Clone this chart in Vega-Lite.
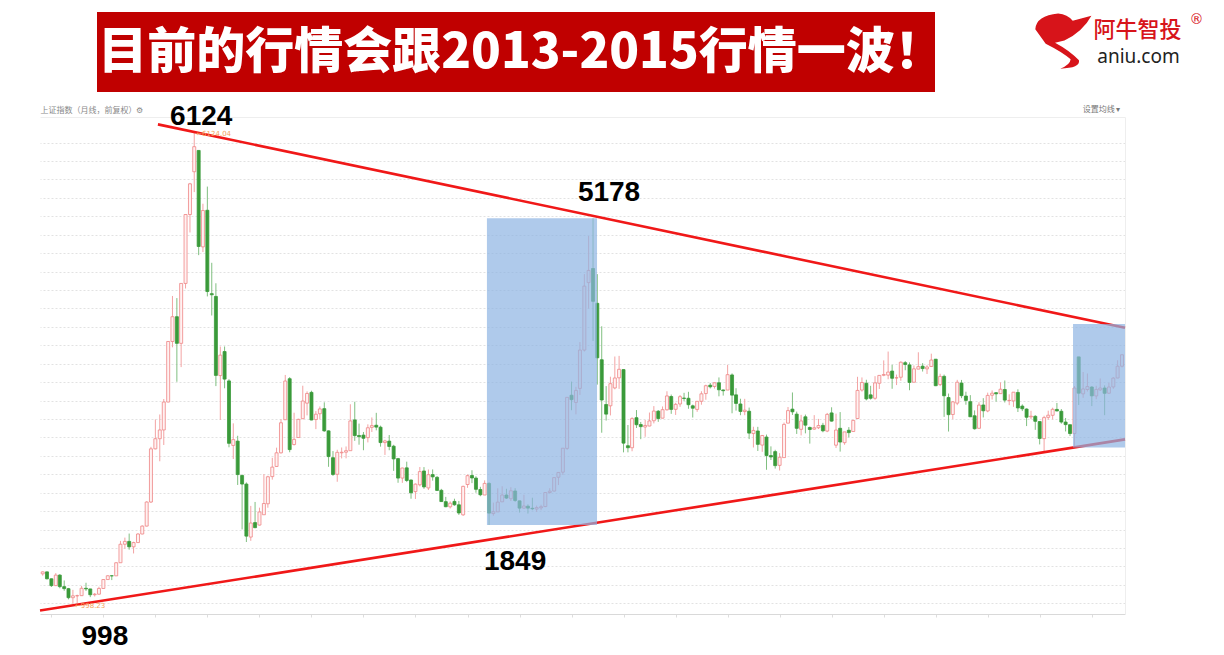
{
  "$schema": "https://vega.github.io/schema/vega-lite/v6.json",
  "background": "white",
  "padding": {"left": 34, "top": 12, "right": 0, "bottom": 0},
  "config": {"view": {"stroke": null}, "font": "Noto Sans CJK SC"},
  "spacing": 11,
  "vconcat": [
    {
      "spacing": 10,
      "hconcat": [
        {
          "width": 47, "height": 80,
          "data": {"values": [{"t": ""}]},
          "mark": {"type": "text"},
          "encoding": {"text": {"field": "t"}}
        },
        {
          "width": 838, "height": 80,
          "view": {"fill": "#c00000", "stroke": null},
          "data": {"values": [{"t": "目前的行情会跟2013-2015行情一波！"}]},
          "mark": {"type": "text", "color": "white", "fontSize": 49, "fontWeight": 900, "font": "Noto Sans CJK SC", "align": "center", "baseline": "middle", "dx": 5, "dy": 1},
          "encoding": {"text": {"field": "t"}}
        },
        {
          "width": 279, "height": 80,
          "layer": [
            {
              "data": {"values": [{"k": "logo"}]},
              "mark": {"type": "point", "filled": true, "color": "#d7141a", "opacity": 1, "size": 2700,
                "shape": "M-2.24,-0.88 Q-2.2,-1.4 -1.36,-1.48 Q-1.0,-1.45 -0.8,-1.2 L-0.08,-1.4 Q-0.4,-0.8 -1.12,-0.44 L-1.48,-0.36 Q-0.9,-0.05 -0.56,0.32 Q-0.5,0.62 -1.28,0.64 Q-0.9,0.5 -0.88,0.28 Q-1.2,0.0 -1.84,-0.32 Z"},
              "encoding": {}
            },
            {
              "data": {"values": [{"t": "阿牛智投"}]},
              "mark": {"type": "text", "color": "#d7141a", "fontSize": 22, "fontWeight": 500, "font": "Noto Sans CJK SC", "align": "center", "baseline": "middle", "dx": 44, "dy": -22},
              "encoding": {"text": {"field": "t"}}
            },
            {
              "data": {"values": [{"t": "®"}]},
              "mark": {"type": "text", "color": "#d7141a", "fontSize": 14, "font": "DejaVu Sans", "align": "center", "baseline": "middle", "dx": 103, "dy": -32},
              "encoding": {"text": {"field": "t"}}
            },
            {
              "data": {"values": [{"t": "aniu.com"}]},
              "mark": {"type": "text", "color": "#222222", "fontSize": 19, "font": "Noto Sans", "align": "center", "baseline": "middle", "dx": 45, "dy": 5},
              "encoding": {"text": {"field": "t"}}
            }
          ]
        }
      ]
    },
    {
      "width": 1085,
      "height": 497,
      "data": {"name": "candles", "values": [
        {"m":"2004-11","o":1320,"h":1345,"l":1300,"c":1341},
        {"m":"2004-12","o":1341,"h":1345,"l":1259,"c":1266},
        {"m":"2005-01","o":1266,"h":1270,"l":1177,"c":1192},
        {"m":"2005-02","o":1192,"h":1328,"l":1187,"c":1306},
        {"m":"2005-03","o":1306,"h":1316,"l":1163,"c":1181},
        {"m":"2005-04","o":1181,"h":1248,"l":1136,"c":1159},
        {"m":"2005-05","o":1159,"h":1167,"l":1043,"c":1061},
        {"m":"2005-06","o":1061,"h":1146,"l":998.23,"c":1081},
        {"m":"2005-07","o":1081,"h":1094,"l":1004,"c":1083},
        {"m":"2005-08","o":1083,"h":1188,"l":1081,"c":1163},
        {"m":"2005-09","o":1163,"h":1223,"l":1134,"c":1156},
        {"m":"2005-10","o":1156,"h":1157,"l":1067,"c":1093},
        {"m":"2005-11","o":1093,"h":1112,"l":1074,"c":1099},
        {"m":"2005-12","o":1099,"h":1180,"l":1094,"c":1161},
        {"m":"2006-01","o":1161,"h":1262,"l":1161,"c":1258},
        {"m":"2006-02","o":1258,"h":1304,"l":1257,"c":1299},
        {"m":"2006-03","o":1299,"h":1302,"l":1252,"c":1298},
        {"m":"2006-04","o":1298,"h":1445,"l":1298,"c":1440},
        {"m":"2006-05","o":1440,"h":1677,"l":1440,"c":1641},
        {"m":"2006-06","o":1641,"h":1713,"l":1593,"c":1672},
        {"m":"2006-07","o":1672,"h":1757,"l":1582,"c":1613},
        {"m":"2006-08","o":1613,"h":1668,"l":1541,"c":1659},
        {"m":"2006-09","o":1659,"h":1761,"l":1657,"c":1752},
        {"m":"2006-10","o":1752,"h":1846,"l":1749,"c":1838},
        {"m":"2006-11","o":1838,"h":2107,"l":1834,"c":2099},
        {"m":"2006-12","o":2099,"h":2698,"l":2089,"c":2676},
        {"m":"2007-01","o":2676,"h":2995,"l":2670,"c":2786},
        {"m":"2007-02","o":2786,"h":3049,"l":2541,"c":2881},
        {"m":"2007-03","o":2881,"h":3217,"l":2718,"c":3184},
        {"m":"2007-04","o":3184,"h":3845,"l":3181,"c":3841},
        {"m":"2007-05","o":3841,"h":4335,"l":3778,"c":4110},
        {"m":"2007-06","o":4110,"h":4312,"l":3404,"c":3821},
        {"m":"2007-07","o":3821,"h":4471,"l":3563,"c":4471},
        {"m":"2007-08","o":4471,"h":5219,"l":4416,"c":5219},
        {"m":"2007-09","o":5219,"h":5562,"l":5024,"c":5552},
        {"m":"2007-10","o":5683,"h":6124.04,"l":5462,"c":5955},
        {"m":"2007-11","o":5914,"h":5915,"l":4778,"c":4872},
        {"m":"2007-12","o":4868,"h":5336,"l":4812,"c":5262},
        {"m":"2008-01","o":5265,"h":5522,"l":4330,"c":4383},
        {"m":"2008-02","o":4360,"h":4695,"l":4123,"c":4348},
        {"m":"2008-03","o":4330,"h":4473,"l":3357,"c":3473},
        {"m":"2008-04","o":3471,"h":3786,"l":2990,"c":3693},
        {"m":"2008-05","o":3732,"h":3787,"l":3333,"c":3433},
        {"m":"2008-06","o":3413,"h":3432,"l":2693,"c":2736},
        {"m":"2008-07","o":2713,"h":2953,"l":2566,"c":2776},
        {"m":"2008-08","o":2760,"h":2818,"l":2284,"c":2397},
        {"m":"2008-09","o":2387,"h":2398,"l":1802,"c":2294},
        {"m":"2008-10","o":2294,"h":2312,"l":1665,"c":1729},
        {"m":"2008-11","o":1719,"h":2057,"l":1678,"c":1871},
        {"m":"2008-12","o":1876,"h":2100,"l":1815,"c":1821},
        {"m":"2009-01","o":1849,"h":2038,"l":1844,"c":1991},
        {"m":"2009-02","o":1961,"h":2402,"l":1962,"c":2083},
        {"m":"2009-03","o":2080,"h":2384,"l":2037,"c":2373},
        {"m":"2009-04","o":2375,"h":2579,"l":2342,"c":2478},
        {"m":"2009-05","o":2485,"h":2689,"l":2479,"c":2633},
        {"m":"2009-06","o":2633,"h":2998,"l":2625,"c":2959},
        {"m":"2009-07","o":2992,"h":3478,"l":2990,"c":3412},
        {"m":"2009-08","o":3437,"h":3454,"l":2639,"c":2668},
        {"m":"2009-09","o":2723,"h":3068,"l":2712,"c":2779},
        {"m":"2009-10","o":2799,"h":3003,"l":2799,"c":2996},
        {"m":"2009-11","o":3003,"h":3361,"l":3003,"c":3195},
        {"m":"2009-12","o":3172,"h":3300,"l":3039,"c":3277},
        {"m":"2010-01","o":3289,"h":3307,"l":2986,"c":2989},
        {"m":"2010-02","o":2994,"h":3086,"l":2890,"c":3052},
        {"m":"2010-03","o":3057,"h":3136,"l":2997,"c":3109},
        {"m":"2010-04","o":3112,"h":3181,"l":2861,"c":2871},
        {"m":"2010-05","o":2871,"h":2877,"l":2481,"c":2592},
        {"m":"2010-06","o":2580,"h":2652,"l":2382,"c":2398},
        {"m":"2010-07","o":2400,"h":2666,"l":2319,"c":2638},
        {"m":"2010-08","o":2633,"h":2691,"l":2572,"c":2639},
        {"m":"2010-09","o":2640,"h":2702,"l":2573,"c":2656},
        {"m":"2010-10","o":2656,"h":3160,"l":2660,"c":2979},
        {"m":"2010-11","o":2990,"h":3187,"l":2763,"c":2820},
        {"m":"2010-12","o":2821,"h":2950,"l":2721,"c":2808},
        {"m":"2011-01","o":2825,"h":2859,"l":2661,"c":2791},
        {"m":"2011-02","o":2798,"h":2942,"l":2746,"c":2905},
        {"m":"2011-03","o":2909,"h":3017,"l":2859,"c":2928},
        {"m":"2011-04","o":2932,"h":3067,"l":2877,"c":2912},
        {"m":"2011-05","o":2911,"h":2928,"l":2700,"c":2744},
        {"m":"2011-06","o":2744,"h":2775,"l":2610,"c":2762},
        {"m":"2011-07","o":2760,"h":2826,"l":2661,"c":2702},
        {"m":"2011-08","o":2705,"h":2720,"l":2437,"c":2567},
        {"m":"2011-09","o":2570,"h":2578,"l":2308,"c":2359},
        {"m":"2011-10","o":2359,"h":2472,"l":2307,"c":2468},
        {"m":"2011-11","o":2470,"h":2537,"l":2315,"c":2333},
        {"m":"2011-12","o":2338,"h":2343,"l":2135,"c":2199},
        {"m":"2012-01","o":2212,"h":2301,"l":2132,"c":2293},
        {"m":"2012-02","o":2286,"h":2479,"l":2269,"c":2429},
        {"m":"2012-03","o":2436,"h":2478,"l":2242,"c":2263},
        {"m":"2012-04","o":2252,"h":2452,"l":2229,"c":2396},
        {"m":"2012-05","o":2397,"h":2453,"l":2331,"c":2372},
        {"m":"2012-06","o":2367,"h":2381,"l":2218,"c":2225},
        {"m":"2012-07","o":2226,"h":2242,"l":2100,"c":2104},
        {"m":"2012-08","o":2103,"h":2155,"l":2043,"c":2048},
        {"m":"2012-09","o":2047,"h":2106,"l":2029,"c":2086},
        {"m":"2012-10","o":2106,"h":2135,"l":2058,"c":2069},
        {"m":"2012-11","o":2069,"h":2111,"l":1959,"c":1980},
        {"m":"2012-12","o":1960,"h":2276,"l":1949,"c":2269},
        {"m":"2013-01","o":2289,"h":2398,"l":2253,"c":2385},
        {"m":"2013-02","o":2387,"h":2444,"l":2304,"c":2360},
        {"m":"2013-03","o":2359,"h":2379,"l":2200,"c":2237},
        {"m":"2013-04","o":2235,"h":2264,"l":2162,"c":2178},
        {"m":"2013-05","o":2175,"h":2334,"l":2175,"c":2301},
        {"m":"2013-06","o":2301,"h":2314,"l":1849.65,"c":1979},
        {"m":"2013-07","o":1974,"h":2093,"l":1950,"c":1994},
        {"m":"2013-08","o":1992,"h":2248,"l":1991,"c":2098},
        {"m":"2013-09","o":2101,"h":2270,"l":2101,"c":2175},
        {"m":"2013-10","o":2175,"h":2243,"l":2132,"c":2142},
        {"m":"2013-11","o":2135,"h":2260,"l":2110,"c":2221},
        {"m":"2013-12","o":2219,"h":2249,"l":2100,"c":2116},
        {"m":"2014-01","o":2112,"h":2113,"l":1985,"c":2033},
        {"m":"2014-02","o":2033,"h":2178,"l":2025,"c":2056},
        {"m":"2014-03","o":2054,"h":2074,"l":1974,"c":2033},
        {"m":"2014-04","o":2031,"h":2146,"l":2010,"c":2026},
        {"m":"2014-05","o":2023,"h":2061,"l":1991,"c":2039},
        {"m":"2014-06","o":2036,"h":2070,"l":2010,"c":2048},
        {"m":"2014-07","o":2050,"h":2203,"l":2043,"c":2202},
        {"m":"2014-08","o":2202,"h":2249,"l":2190,"c":2217},
        {"m":"2014-09","o":2218,"h":2366,"l":2212,"c":2364},
        {"m":"2014-10","o":2368,"h":2421,"l":2283,"c":2420},
        {"m":"2014-11","o":2423,"h":2683,"l":2393,"c":2683},
        {"m":"2014-12","o":2681,"h":3239,"l":2665,"c":3235},
        {"m":"2015-01","o":3258,"h":3406,"l":3095,"c":3210},
        {"m":"2015-02","o":3180,"h":3349,"l":3050,"c":3310},
        {"m":"2015-03","o":3332,"h":3835,"l":3261,"c":3748},
        {"m":"2015-04","o":3748,"h":4572,"l":3732,"c":4442},
        {"m":"2015-05","o":4480,"h":4986,"l":4198,"c":4612},
        {"m":"2015-06","o":4633,"h":5178.19,"l":3847,"c":4277},
        {"m":"2015-07","o":4255,"h":4572,"l":3373,"c":3664},
        {"m":"2015-08","o":3643,"h":4006,"l":2851,"c":3206},
        {"m":"2015-09","o":3157,"h":3357,"l":2983,"c":3053},
        {"m":"2015-10","o":3143,"h":3459,"l":3039,"c":3383},
        {"m":"2015-11","o":3337,"h":3678,"l":3322,"c":3445},
        {"m":"2015-12","o":3447,"h":3685,"l":3327,"c":3539},
        {"m":"2016-01","o":3536,"h":3539,"l":2638,"c":2738},
        {"m":"2016-02","o":2710,"h":2935,"l":2638,"c":2688},
        {"m":"2016-03","o":2688,"h":3019,"l":2650,"c":3004},
        {"m":"2016-04","o":3014,"h":3097,"l":2902,"c":2938},
        {"m":"2016-05","o":2940,"h":2968,"l":2781,"c":2917},
        {"m":"2016-06","o":2913,"h":2990,"l":2807,"c":2930},
        {"m":"2016-07","o":2924,"h":3070,"l":2921,"c":2979},
        {"m":"2016-08","o":2981,"h":3140,"l":2952,"c":3086},
        {"m":"2016-09","o":3085,"h":3097,"l":2969,"c":3005},
        {"m":"2016-10","o":3009,"h":3136,"l":3008,"c":3101},
        {"m":"2016-11","o":3100,"h":3301,"l":3091,"c":3250},
        {"m":"2016-12","o":3244,"h":3265,"l":3056,"c":3104},
        {"m":"2017-01","o":3105,"h":3175,"l":3044,"c":3159},
        {"m":"2017-02","o":3163,"h":3260,"l":3132,"c":3242},
        {"m":"2017-03","o":3227,"h":3284,"l":3196,"c":3223},
        {"m":"2017-04","o":3225,"h":3295,"l":3111,"c":3155},
        {"m":"2017-05","o":3143,"h":3156,"l":3016,"c":3117},
        {"m":"2017-06","o":3104,"h":3193,"l":3078,"c":3192},
        {"m":"2017-07","o":3192,"h":3301,"l":3155,"c":3273},
        {"m":"2017-08","o":3276,"h":3372,"l":3209,"c":3361},
        {"m":"2017-09","o":3367,"h":3391,"l":3331,"c":3349},
        {"m":"2017-10","o":3353,"h":3397,"l":3330,"c":3393},
        {"m":"2017-11","o":3393,"h":3451,"l":3246,"c":3317},
        {"m":"2017-12","o":3315,"h":3319,"l":3254,"c":3307},
        {"m":"2018-01","o":3314,"h":3587,"l":3314,"c":3481},
        {"m":"2018-02","o":3478,"h":3495,"l":3062,"c":3259},
        {"m":"2018-03","o":3262,"h":3334,"l":3091,"c":3169},
        {"m":"2018-04","o":3163,"h":3220,"l":3041,"c":3082},
        {"m":"2018-05","o":3081,"h":3219,"l":3041,"c":3096},
        {"m":"2018-06","o":3084,"h":3124,"l":2782,"c":2847},
        {"m":"2018-07","o":2842,"h":2916,"l":2691,"c":2876},
        {"m":"2018-08","o":2870,"h":2915,"l":2653,"c":2725},
        {"m":"2018-09","o":2717,"h":2827,"l":2644,"c":2821},
        {"m":"2018-10","o":2804,"h":2831,"l":2449,"c":2603},
        {"m":"2018-11","o":2603,"h":2703,"l":2555,"c":2588},
        {"m":"2018-12","o":2646,"h":2666,"l":2462,"c":2494},
        {"m":"2019-01","o":2497,"h":2630,"l":2441,"c":2585},
        {"m":"2019-02","o":2581,"h":2961,"l":2581,"c":2941},
        {"m":"2019-03","o":2955,"h":3130,"l":2954,"c":3091},
        {"m":"2019-04","o":3107,"h":3288,"l":3044,"c":3078},
        {"m":"2019-05","o":3053,"h":3080,"l":2838,"c":2899},
        {"m":"2019-06","o":2888,"h":3045,"l":2822,"c":2979},
        {"m":"2019-07","o":3024,"h":3048,"l":2844,"c":2933},
        {"m":"2019-08","o":2908,"h":2918,"l":2733,"c":2886},
        {"m":"2019-09","o":2890,"h":3042,"l":2883,"c":2905},
        {"m":"2019-10","o":2905,"h":3001,"l":2891,"c":2929},
        {"m":"2019-11","o":2931,"h":2958,"l":2856,"c":2872},
        {"m":"2019-12","o":2869,"h":3066,"l":2857,"c":3050},
        {"m":"2020-01","o":3066,"h":3127,"l":2971,"c":2977},
        {"m":"2020-02","o":2716,"h":3058,"l":2685,"c":2880},
        {"m":"2020-03","o":2899,"h":3075,"l":2646,"c":2750},
        {"m":"2020-04","o":2743,"h":2860,"l":2720,"c":2860},
        {"m":"2020-05","o":2878,"h":2912,"l":2801,"c":2852},
        {"m":"2020-06","o":2864,"h":2992,"l":2864,"c":2985},
        {"m":"2020-07","o":3005,"h":3458,"l":3001,"c":3310},
        {"m":"2020-08","o":3314,"h":3451,"l":3297,"c":3396},
        {"m":"2020-09","o":3388,"h":3426,"l":3202,"c":3218},
        {"m":"2020-10","o":3262,"h":3360,"l":3210,"c":3225},
        {"m":"2020-11","o":3225,"h":3465,"l":3209,"c":3392},
        {"m":"2020-12","o":3388,"h":3475,"l":3326,"c":3473},
        {"m":"2021-01","o":3474,"h":3636,"l":3464,"c":3483},
        {"m":"2021-02","o":3476,"h":3732,"l":3431,"c":3509},
        {"m":"2021-03","o":3520,"h":3588,"l":3328,"c":3442},
        {"m":"2021-04","o":3446,"h":3482,"l":3368,"c":3447},
        {"m":"2021-05","o":3453,"h":3625,"l":3415,"c":3616},
        {"m":"2021-06","o":3611,"h":3629,"l":3529,"c":3591},
        {"m":"2021-07","o":3587,"h":3614,"l":3312,"c":3397},
        {"m":"2021-08","o":3399,"h":3581,"l":3398,"c":3544},
        {"m":"2021-09","o":3541,"h":3724,"l":3541,"c":3568},
        {"m":"2021-10","o":3573,"h":3606,"l":3515,"c":3547},
        {"m":"2021-11","o":3544,"h":3584,"l":3488,"c":3564},
        {"m":"2021-12","o":3570,"h":3709,"l":3564,"c":3640},
        {"m":"2022-01","o":3649,"h":3651,"l":3357,"c":3361},
        {"m":"2022-02","o":3373,"h":3491,"l":3357,"c":3462},
        {"m":"2022-03","o":3463,"h":3482,"l":3023,"c":3252},
        {"m":"2022-04","o":3233,"h":3276,"l":2864,"c":3047},
        {"m":"2022-05","o":3049,"h":3195,"l":2997,"c":3186},
        {"m":"2022-06","o":3172,"h":3425,"l":3150,"c":3399},
        {"m":"2022-07","o":3390,"h":3424,"l":3226,"c":3253},
        {"m":"2022-08","o":3249,"h":3296,"l":3155,"c":3202},
        {"m":"2022-09","o":3188,"h":3259,"l":3021,"c":3024},
        {"m":"2022-10","o":3035,"h":3093,"l":2885,"c":2894},
        {"m":"2022-11","o":2899,"h":3182,"l":2897,"c":3151},
        {"m":"2022-12","o":3152,"h":3226,"l":3017,"c":3089},
        {"m":"2023-01","o":3087,"h":3286,"l":3073,"c":3256},
        {"m":"2023-02","o":3258,"h":3310,"l":3211,"c":3280},
        {"m":"2023-03","o":3285,"h":3292,"l":3188,"c":3273},
        {"m":"2023-04","o":3275,"h":3397,"l":3272,"c":3323},
        {"m":"2023-05","o":3320,"h":3418,"l":3179,"c":3205},
        {"m":"2023-06","o":3200,"h":3268,"l":3150,"c":3202},
        {"m":"2023-07","o":3196,"h":3292,"l":3132,"c":3291},
        {"m":"2023-08","o":3288,"h":3322,"l":3076,"c":3120},
        {"m":"2023-09","o":3140,"h":3159,"l":3086,"c":3111},
        {"m":"2023-10","o":3108,"h":3115,"l":2923,"c":3019},
        {"m":"2023-11","o":3023,"h":3089,"l":2998,"c":3030},
        {"m":"2023-12","o":3029,"h":3042,"l":2882,"c":2975},
        {"m":"2024-01","o":2972,"h":2976,"l":2724,"c":2789},
        {"m":"2024-02","o":2787,"h":3035,"l":2635,"c":3015},
        {"m":"2024-03","o":3018,"h":3090,"l":2993,"c":3041},
        {"m":"2024-04","o":3040,"h":3123,"l":2995,"c":3105},
        {"m":"2024-05","o":3104,"h":3174,"l":3084,"c":3087},
        {"m":"2024-06","o":3084,"h":3108,"l":2949,"c":2967},
        {"m":"2024-07","o":2967,"h":3011,"l":2865,"c":2939},
        {"m":"2024-08","o":2938,"h":2939,"l":2815,"c":2842},
        {"m":"2024-09","o":2842,"h":3358,"l":2690,"c":3336},
        {"m":"2024-10","o":3674,"h":3674,"l":3152,"c":3280},
        {"m":"2024-11","o":3273,"h":3510,"l":3230,"c":3326},
        {"m":"2024-12","o":3320,"h":3494,"l":3298,"c":3352},
        {"m":"2025-01","o":3347,"h":3356,"l":3140,"c":3251},
        {"m":"2025-02","o":3250,"h":3361,"l":3214,"c":3321},
        {"m":"2025-03","o":3316,"h":3440,"l":3304,"c":3336},
        {"m":"2025-04","o":3336,"h":3365,"l":3041,"c":3279},
        {"m":"2025-05","o":3280,"h":3392,"l":3272,"c":3347},
        {"m":"2025-06","o":3348,"h":3454,"l":3328,"c":3444},
        {"m":"2025-07","o":3445,"h":3637,"l":3442,"c":3573},
        {"m":"2025-08","o":3573,"h":3700,"l":3559,"c":3697}
      ]},
      "resolve": {"axis": {"x": "independent", "y": "independent"}},
      "layer": [
        {
          "mark": {"type": "rule", "strokeWidth": 1},
          "encoding": {
            "x": {"field": "m", "type": "temporal",
              "scale": {"domain": [{"year": 2004, "month": 10, "date": 13, "utc": true}, {"year": 2025, "month": 8, "date": 22, "utc": true}], "nice": false, "padding": 0},
              "axis": {"orient": "bottom", "labels": false, "ticks": true, "tickSize": 3, "tickColor": "#dddddd", "domainColor": "#d9d9d9", "grid": false, "title": null, "tickCount": {"interval": "year", "step": 1}}},
            "y": {"field": "l", "type": "quantitative",
              "scale": {"domain": [884, 6277], "nice": false, "zero": false, "padding": 0},
              "axis": {"orient": "right", "values": [1000,1200,1400,1600,1800,2000,2200,2400,2600,2800,3000,3200,3400,3600,3800,4000,4200,4400,4600,4800,5000,5200,5400,5600,5800,6000],
                "labels": false, "ticks": false, "domain": true, "domainColor": "#eeeeee", "grid": true, "gridColor": "#e2e2e2", "gridDash": [2, 2],
                "title": "设置均线 ▾", "titleAngle": 0, "titleX": -5, "titleY": -4, "titleAlign": "right", "titleBaseline": "bottom", "titleFontSize": 8, "titleFontWeight": "normal", "titleColor": "#777777", "titleFont": "Noto Sans CJK SC"}},
            "y2": {"field": "h"},
            "color": {"condition": {"test": "datum.c >= datum.o", "value": "#f3a3a3"}, "value": "#80bf80"}
          }
        },
        {
          "mark": {"type": "bar", "width": 3, "strokeWidth": 0.8},
          "encoding": {
            "x": {"field": "m", "type": "temporal", "axis": null},
            "y": {"field": "o", "type": "quantitative", "axis": null},
            "y2": {"field": "c"},
            "fill": {"condition": {"test": "datum.c >= datum.o", "value": "#fff2f2"}, "value": "#3a9a3a"},
            "stroke": {"condition": {"test": "datum.c >= datum.o", "value": "#ef8585"}, "value": "#3a9a3a"}
          }
        },
        {
          "data": {"values": [
            {"g": "upper", "m": "2007-01-19", "v": 6197},
            {"g": "upper", "m": "2025-08-22", "v": 3990},
            {"g": "lower", "m": "2004-10-13", "v": 921},
            {"g": "lower", "m": "2025-08-22", "v": 2779}
          ]},
          "mark": {"type": "line", "color": "#f01818", "strokeWidth": 2.6},
          "encoding": {
            "x": {"field": "m", "type": "temporal",
              "axis": {"orient": "top", "labels": false, "ticks": false, "domain": true, "domainColor": "#eeeeee", "grid": false,
                "title": "上证指数（月线，前复权）⚙", "titleAnchor": "start", "titleAlign": "left", "titlePadding": 3, "titleFontSize": 8, "titleColor": "#888888", "titleFontWeight": "normal", "titleFont": "Noto Sans CJK SC"}},
            "y": {"field": "v", "type": "quantitative", "axis": null},
            "detail": {"field": "g"}
          }
        },
        {
          "data": {"values": [
            {"m1": "2013-05-17", "m2": "2015-06-29", "v1": 1849.65, "v2": 5178.19},
            {"m1": "2024-08-22", "m2": "2025-08-22", "v1": 2690, "v2": 4030}
          ]},
          "mark": {"type": "rect", "color": "#8db4e2", "opacity": 0.7},
          "encoding": {
            "x": {"field": "m1", "type": "temporal", "axis": null},
            "x2": {"field": "m2"},
            "y": {"field": "v1", "type": "quantitative", "axis": null},
            "y2": {"field": "v2"}
          }
        },
        {
          "data": {"values": [{"t": "6124", "m": "2007-10", "v": 6124.04}]},
          "mark": {"type": "text", "fontSize": 28, "fontWeight": "bold", "font": "Liberation Sans", "color": "#000000", "align": "center", "baseline": "middle", "dx": 7, "dy": -14},
          "encoding": {"x": {"field": "m", "type": "temporal", "axis": null}, "y": {"field": "v", "type": "quantitative", "axis": null}, "text": {"field": "t"}}
        },
        {
          "data": {"values": [{"t": "5178", "m": "2015-06", "v": 5178.19}]},
          "mark": {"type": "text", "fontSize": 28, "fontWeight": "bold", "font": "Liberation Sans", "color": "#000000", "align": "center", "baseline": "middle", "dx": 16, "dy": -25},
          "encoding": {"x": {"field": "m", "type": "temporal", "axis": null}, "y": {"field": "v", "type": "quantitative", "axis": null}, "text": {"field": "t"}}
        },
        {
          "data": {"values": [{"t": "1849", "m": "2013-06", "v": 1849.65}]},
          "mark": {"type": "text", "fontSize": 28, "fontWeight": "bold", "font": "Liberation Sans", "color": "#000000", "align": "center", "baseline": "middle", "dx": 26, "dy": 37},
          "encoding": {"x": {"field": "m", "type": "temporal", "axis": null}, "y": {"field": "v", "type": "quantitative", "axis": null}, "text": {"field": "t"}}
        },
        {
          "data": {"values": [{"t": "998", "m": "2005-06", "v": 998.23}]},
          "mark": {"type": "text", "fontSize": 28, "fontWeight": "bold", "font": "Liberation Sans", "color": "#000000", "align": "center", "baseline": "middle", "dx": 32, "dy": 34},
          "encoding": {"x": {"field": "m", "type": "temporal", "axis": null}, "y": {"field": "v", "type": "quantitative", "axis": null}, "text": {"field": "t"}}
        },
        {
          "data": {"values": [
            {"t": "←6124.04", "m": "2007-10", "v": 6124.04},
            {"t": "←998.23", "m": "2005-06", "v": 998.23}
          ]},
          "mark": {"type": "text", "fontSize": 7, "font": "DejaVu Sans", "color": "#f4a15c", "align": "left", "baseline": "middle", "dx": 2, "dy": 3},
          "encoding": {"x": {"field": "m", "type": "temporal", "axis": null}, "y": {"field": "v", "type": "quantitative", "axis": null}, "text": {"field": "t"}}
        }
      ]
    }
  ]
}
